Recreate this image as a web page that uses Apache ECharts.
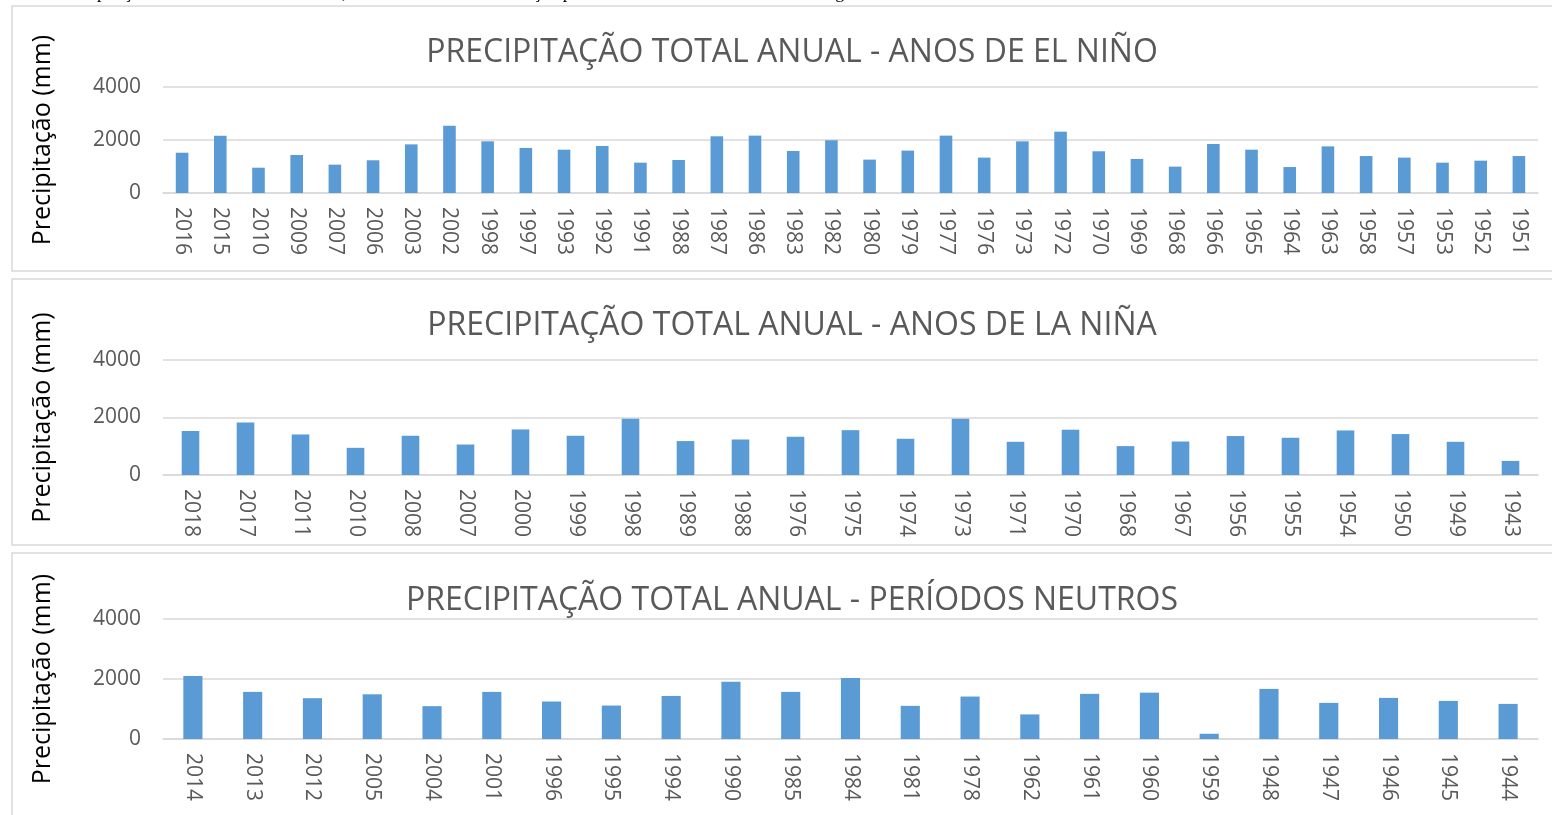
<!DOCTYPE html>
<html>
<head>
<meta charset="utf-8">
<script src="https://cdn.jsdelivr.net/npm/echarts@6/dist/echarts.min.js"></script>
<style>
html,body{margin:0;padding:0;background:#fff;}
#chart{width:1552px;height:815px;}
</style>
</head>
<body>
<div id="chart"></div>
<script>
const captionText = 'Precipitação anual dos anos de El Niño, La Niña e neutros da estação pluviométrica 1847003 - Catalão - Região Central de Goiás';
const titles = [
  'PRECIPITAÇÃO TOTAL ANUAL - ANOS DE EL NIÑO',
  'PRECIPITAÇÃO TOTAL ANUAL - ANOS DE LA NIÑA',
  'PRECIPITAÇÃO TOTAL ANUAL - PERÍODOS NEUTROS'
];
const yAxisName = 'Precipitação (mm)';
const yTicks = [0, 2000, 4000];

const elNinoYears = ['2016','2015','2010','2009','2007','2006','2003','2002','1998','1997','1993','1992','1991','1988','1987','1986','1983','1982','1980','1979','1977','1976','1973','1972','1970','1969','1968','1966','1965','1964','1963','1958','1957','1953','1952','1951'];
const elNinoValues = [1520,2160,955,1435,1070,1235,1835,2540,1950,1700,1635,1775,1145,1245,2140,2165,1585,1990,1260,1600,2165,1335,1950,2315,1575,1285,995,1850,1635,980,1760,1395,1335,1145,1220,1395];

const laNinaYears = ['2018','2017','2011','2010','2008','2007','2000','1999','1998','1989','1988','1976','1975','1974','1973','1971','1970','1968','1967','1956','1955','1954','1950','1949','1943'];
const laNinaValues = [1530,1830,1410,945,1365,1060,1585,1365,1960,1180,1235,1330,1560,1260,1960,1155,1575,1005,1165,1355,1295,1550,1425,1155,490];

const neutralYears = ['2014','2013','2012','2005','2004','2001','1996','1995','1994','1990','1985','1984','1981','1978','1962','1961','1960','1959','1948','1947','1946','1945','1944'];
const neutralValues = [2100,1570,1360,1490,1095,1570,1250,1115,1435,1910,1570,2035,1105,1415,820,1505,1545,175,1670,1205,1370,1270,1170];

const gridBoxes = [
  {top: 87, height: 106},
  {top: 360, height: 115},
  {top: 619, height: 120}
];
const panelBoxes = [
  {y: 6, h: 265},
  {y: 279, h: 266},
  {y: 553, h: 280}
];
const titleY = [32, 305, 580];

const gray = '#D9D9D9';
const textGray = '#595959';
const barColor = '#5B9BD5';

const datasets = [
  {years: elNinoYears, values: elNinoValues, barWidth: '33%'},
  {years: laNinaYears, values: laNinaValues, barWidth: '32%'},
  {years: neutralYears, values: neutralValues, barWidth: '32%'}
];

const chart = echarts.init(document.getElementById('chart'));

const option = {
  backgroundColor: '#fff',
  animation: false,
  title: titles.map((t, i) => ({
    text: t,
    left: 787,
    top: titleY[i],
    textAlign: 'center',
    textStyle: {color: textGray, fontSize: 32, fontWeight: 'normal', fontFamily: 'Open Sans, sans-serif'}
  })),
  grid: gridBoxes.map(g => ({left: 163, right: 14, top: g.top, height: g.height})),
  xAxis: datasets.map((d, i) => ({
    type: 'category',
    gridIndex: i,
    data: d.years,
    axisTick: {show: false},
    axisLine: {lineStyle: {color: gray, width: 1.5}},
    axisLabel: {rotate: -90, color: textGray, fontSize: 21, fontFamily: 'Open Sans, sans-serif', margin: 14, interval: 0}
  })),
  yAxis: datasets.map((d, i) => ({
    type: 'value',
    gridIndex: i,
    min: yTicks[0],
    max: yTicks[yTicks.length - 1],
    interval: yTicks[1] - yTicks[0],
    name: yAxisName,
    nameLocation: 'middle',
    nameGap: 108,
    nameTextStyle: {color: '#000', fontSize: 25, fontFamily: 'Open Sans, sans-serif'},
    axisLine: {show: false},
    axisTick: {show: false},
    splitLine: {lineStyle: {color: gray, width: 1.5}},
    axisLabel: {color: textGray, fontSize: 21, fontFamily: 'Open Sans, sans-serif', margin: 22, formatter: v => String(v)}
  })),
  series: datasets.map((d, i) => ({
    type: 'bar',
    xAxisIndex: i,
    yAxisIndex: i,
    data: d.values,
    barWidth: d.barWidth,
    itemStyle: {color: barColor}
  })),
  graphic: [
    {type: 'text', left: 60, top: -16, silent: true,
     style: {text: captionText, fill: '#000', font: '18px "Liberation Serif", serif'}},
    ...panelBoxes.map(p => ({
      type: 'rect', silent: true, z: -1,
      shape: {x: 12, y: p.y, width: 1560, height: p.h},
      style: {fill: 'none', stroke: gray, lineWidth: 1.5}
    }))
  ]
};
chart.setOption(option);
</script>
</body>
</html>
